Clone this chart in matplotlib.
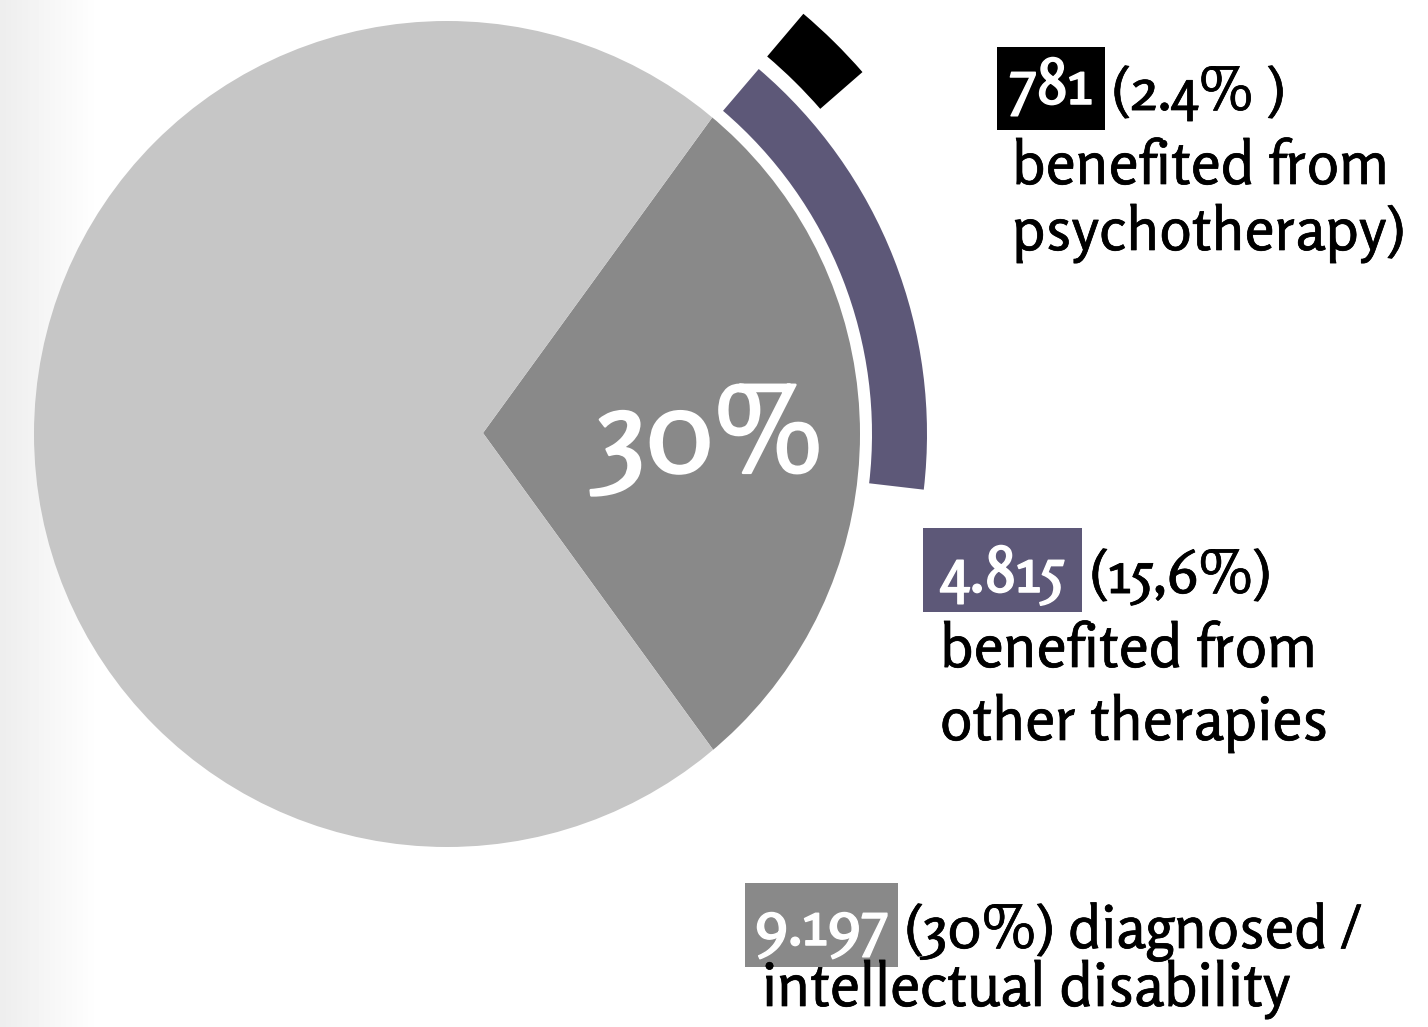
import matplotlib
matplotlib.use("Agg")
import matplotlib.pyplot as plt
import matplotlib.patheffects as pe
from matplotlib.patches import Circle, Rectangle
import numpy as np

# ---- values ----
main_shares = [30, 70]               # diagnosed / intellectual disability vs. rest (%)
other_therapy_shares = [15.6, 84.4]  # benefited from other therapies (%)
psychotherapy_shares = [2.4, 97.6]   # benefited from psychotherapy (%)
box_numbers = ["781", "4.815", "9.197"]
paren_texts = ["(2.4% )", "(15,6%)", "(30%) diagnosed /"]
body_lines = [["benefited from", "psychotherapy)"],
              ["benefited from", "other therapies"],
              ["intellectual disability"]]
center_label = "30%"

# ---- colours ----
LIGHT = "#c6c6c6"
DARK = "#898989"
PURPLE = "#5d5878"
BLACK = "#000000"

W, H = 1428, 1027
FONT = ["Rosario", "DejaVu Sans"]

# a touch heavier than the font's only weight
thick_black = [pe.withStroke(linewidth=0.5, foreground="black")]
thick_white = [pe.withStroke(linewidth=1.0, foreground="white")]

fig = plt.figure(figsize=(W / 100, H / 100), dpi=100)
ax = fig.add_axes([0, 0, 1, 1])

# faint grey strip on the left edge
grad = np.linspace(0.93, 1.0, 100).reshape(1, -1)
ax.imshow(grad, extent=[0, 100, 0, H], cmap="gray", vmin=0, vmax=1, aspect="auto", zorder=0)

# main pie: the apex sits a little right of the circle centre, so clip to the circle
cx, cy, r = 447, H - 434, 413
clip = Circle((cx, cy), r, transform=ax.transData)
wedges, _ = ax.pie(main_shares, colors=[DARK, LIGHT], radius=470, center=(483, H - 433),
                   startangle=main_shares[0] * 3.6 / 2, counterclock=False,
                   wedgeprops=dict(linewidth=0))
for w in wedges:
    w.set_clip_on(True)
    w.set_clip_path(clip)
    w.set_zorder(1)

# outer rings
ax.pie(other_therapy_shares, colors=[PURPLE, "none"], radius=480, center=(cx, cy),
       startangle=49.5, counterclock=False, wedgeprops=dict(width=55, linewidth=0))
ax.pie(psychotherapy_shares, colors=[BLACK, "none"], radius=551, center=(cx, cy),
       startangle=49.7, counterclock=False, wedgeprops=dict(width=56, linewidth=0))

ax.text(710, H - 472, center_label, color="white", fontsize=86, family=FONT,
        ha="center", va="baseline", zorder=5,
        path_effects=[pe.withStroke(linewidth=1.8, foreground="white")])

# labels: box (x0, x1, y0, y1), box colour, number baseline, paren x, paren baseline,
#         body x, body baselines
labels = [
    ((997, 1105, 47, 130), BLACK, 104, 1112, 110, 1012, [184, 250]),
    ((923, 1082, 528, 612), PURPLE, 592, 1090, 593, 940, [667, 740]),
    ((745, 898, 883, 967), DARK, 945, 905, 948, 762, [1006]),
]
for i, (box, col, nbase, px, pbase, bx, bbases) in enumerate(labels):
    x0, x1, y0, y1 = box
    ax.add_patch(Rectangle((x0, H - y1), x1 - x0, y1 - y0, color=col, lw=0, zorder=3))
    ax.text((x0 + x1) / 2, H - nbase, box_numbers[i], color="white", fontsize=46,
            family=FONT, ha="center", va="baseline", zorder=4, path_effects=thick_white)
    ax.text(px, H - pbase, paren_texts[i], color="black", fontsize=43, family=FONT,
            ha="left", va="baseline", zorder=4, path_effects=thick_black)
    for line, b in zip(body_lines[i], bbases):
        ax.text(bx, H - b, line, color="black", fontsize=43.5, family=FONT,
                ha="left", va="baseline", zorder=4, path_effects=thick_black)

ax.set_xlim(0, W)
ax.set_ylim(0, H)
ax.set_aspect("equal")
ax.axis("off")

fig.savefig("out.png", dpi=100, facecolor="white")
